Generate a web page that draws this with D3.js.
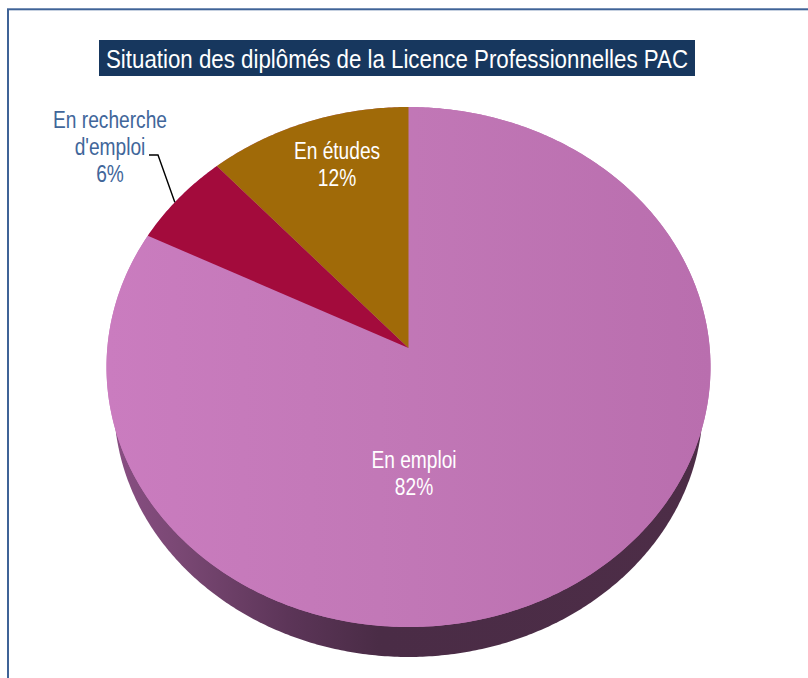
<!DOCTYPE html>
<html><head><meta charset="utf-8">
<script src="https://cdn.jsdelivr.net/npm/d3@7"></script>
<style>html,body{margin:0;padding:0;background:#fff}svg{display:block}text{font-family:"Liberation Sans",Arial,sans-serif}</style>
</head><body><div id="c"></div>
<script>
const categories = ["En études", "En recherche d'emploi", "En emploi"];
const values = [11.7, 5.9, 82.4];
const labels = ["12%", "6%", "82%"];
const colors = ["#a06a08", "#a30b3c", "url(#topGrad)"];
const titleText = "Situation des diplômés de la Licence Professionnelles PAC";

const W = 808, H = 678;
const svg = d3.select("#c").append("svg").attr("width", W).attr("height", H);
const defs = svg.append("defs");
function grad(id, stops){
  const g = defs.append("linearGradient").attr("id", id).attr("gradientUnits","userSpaceOnUse")
    .attr("x1",107).attr("x2",710).attr("y1",0).attr("y2",0);
  stops.forEach(s=>g.append("stop").attr("offset",s[0]).attr("stop-color",s[1]));
}
grad("topGrad",[[0,"#ca7cbf"],[0.45,"#c278b7"],[1,"#b96eae"]]);
grad("rimGrad",[[0,"#8a4f84"],[0.12,"#7a4874"],[0.3,"#5c3558"],[0.45,"#4a2c46"],[1,"#4d2d47"]]);

// frame
svg.append("rect").attr("x",8).attr("y",9.3).attr("width",W+20).attr("height",H+20)
  .attr("fill","#fff").attr("stroke","#3f6397").attr("stroke-width",2);

// perspective projection of the pie disc
const k = 0.0731;
const xS = d3.scaleLinear().domain([-1,1]).range([408.5-301.2, 408.5+301.2]);
const yTop = d3.scaleLinear().domain([-1,1]).range([348+258.6, 348-258.6]);
const yBot = d3.scaleLinear().domain([-1,1]).range([385+252.1, 385-252.1]);
const xB = d3.scaleLinear().domain([-1,1]).range([408.5-293.7, 408.5+293.7]);
const proj = (a, r, xs, ys) => {
  const u = r*Math.sin(a), v = r*Math.cos(a), d = 1+k*v;
  return [xs(u/d), ys(v/d)];
};
const line = d3.line();
const sweep = (a0,a1) => { const n = Math.ceil(Math.abs(a1-a0)/0.01); return d3.range(n+1).map(i=>a0+(a1-a0)*i/n); };

const pie = d3.pie().sort(null).value(d=>d);
// clockwise from 12 o'clock the order is En emploi, then En études last: lay out reversed
const arcs = pie(values).map((d,i)=>({...d, i, a0:-d.endAngle, a1:-d.startAngle}));
const drawOrder = [arcs[2], arcs[1], arcs[0]];

// side wall
svg.append("path")
  .attr("d", line(sweep(0,2*Math.PI).map(a=>proj(a,1,xB,yBot)))+"Z")
  .attr("fill","url(#rimGrad)");

// base of top face, closes seams between slices
svg.append("path")
  .attr("d", line(sweep(0,2*Math.PI).map(a=>proj(a,1,xS,yTop)))+"Z")
  .attr("fill","url(#topGrad)");

// top face slices
svg.append("g").selectAll("path").data(drawOrder).join("path")
  .attr("d", d => line([proj(0,0,xS,yTop), ...sweep(d.a0,d.a1).map(a=>proj(a,1,xS,yTop))])+"Z")
  .attr("fill", d => colors[d.i]);

// leader line (from slice rim to label)
const mid = arcs[1];
const rimPt = proj(mid.a0+(mid.a1-mid.a0)*0.44,1,xS,yTop);
svg.append("path").attr("d", line([rimPt,[158,155],[149,155]]))
  .attr("fill","none").attr("stroke","#000").attr("stroke-width",1.4);

// title
svg.append("rect").attr("x",99).attr("y",40).attr("width",596).attr("height",36).attr("fill","#17375e");
svg.append("text").attr("x",106).attr("y",68).attr("font-size",26).attr("fill","#fff")
  .attr("textLength",582).attr("lengthAdjust","spacingAndGlyphs").text(titleText);

// labels
function label(x, lines, fill){
  const t = svg.append("g").attr("fill",fill).attr("font-size",23.5).attr("text-anchor","middle");
  lines.forEach(l=>{
    t.append("text").attr("transform",`translate(${x},${l[1]}) scale(0.815,1)`).text(l[0]);
  });
}
label(110,[["En recherche",128],["d'emploi",155],[labels[1],182]],"#41669a");
label(337,[["En études",159],[labels[0],186]],"#fff");
label(414,[["En emploi",468],[labels[2],495]],"#fff");
</script></body></html>
